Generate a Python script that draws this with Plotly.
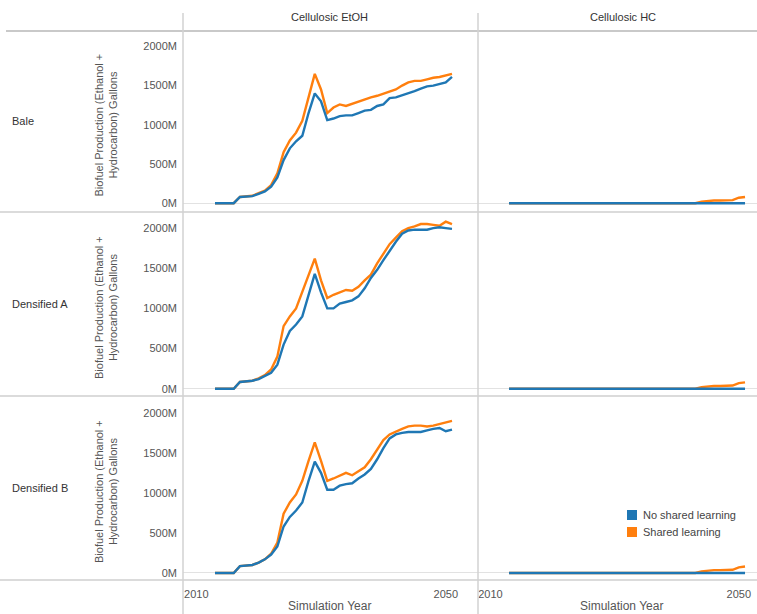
import plotly.graph_objects as go

# Simulation years and biofuel production (million gallons)
years = list(range(2013, 2052))

row_names = ["Bale", "Densified A", "Densified B"]
col_names = ["Cellulosic EtOH", "Cellulosic HC"]
series_names = ["No shared learning", "Shared learning"]

etoh_bale_no = [0, 0, 0, 0, 80, 85, 90, 120, 150, 210, 330, 550, 700, 790, 860, 1150,
                1400, 1300, 1060, 1080, 1110, 1120, 1120, 1150, 1180, 1190, 1240, 1260,
                1340, 1350, 1380, 1400, 1430, 1460, 1490, 1500, 1520, 1540, 1610]
etoh_bale_sh = [0, 0, 0, 0, 80, 90, 95, 130, 160, 230, 380, 650, 800, 900, 1050, 1350,
                1650, 1450, 1150, 1220, 1260, 1240, 1270, 1300, 1330, 1350, 1370, 1400,
                1420, 1450, 1500, 1540, 1560, 1560, 1580, 1600, 1610, 1630, 1650]

etoh_densa_no = [0, 0, 0, 0, 85, 90, 100, 120, 160, 200, 300, 550, 720, 800, 900, 1150,
                 1430, 1200, 1000, 1000, 1060, 1080, 1100, 1150, 1250, 1380, 1480, 1600,
                 1720, 1830, 1930, 1970, 1980, 1980, 1980, 2000, 2010, 2000, 1990]
etoh_densa_sh = [0, 0, 0, 0, 85, 90, 100, 130, 170, 240, 400, 780, 900, 1000, 1200, 1400,
                 1620, 1350, 1130, 1170, 1200, 1230, 1220, 1270, 1350, 1420, 1560, 1680,
                 1800, 1880, 1960, 2000, 2020, 2050, 2050, 2040, 2030, 2080, 2050]

etoh_densb_no = [0, 0, 0, 0, 85, 90, 100, 130, 170, 230, 330, 580, 700, 780, 880, 1150,
                 1390, 1250, 1040, 1040, 1090, 1110, 1120, 1180, 1230, 1300, 1420, 1560,
                 1680, 1730, 1750, 1760, 1760, 1760, 1780, 1800, 1810, 1770, 1790]
etoh_densb_sh = [0, 0, 0, 0, 85, 90, 100, 130, 170, 240, 380, 740, 880, 980, 1150, 1400,
                 1630, 1400, 1150, 1180, 1220, 1250, 1220, 1270, 1320, 1420, 1540, 1660,
                 1730, 1770, 1800, 1830, 1840, 1840, 1830, 1840, 1860, 1880, 1900]

hc_no = [0] * 39
hc_sh = [0] * 31 + [20, 30, 35, 35, 35, 40, 70, 80]

data = {
    ("Bale", "Cellulosic EtOH"): (etoh_bale_no, etoh_bale_sh),
    ("Bale", "Cellulosic HC"): (hc_no, hc_sh),
    ("Densified A", "Cellulosic EtOH"): (etoh_densa_no, etoh_densa_sh),
    ("Densified A", "Cellulosic HC"): (hc_no, hc_sh),
    ("Densified B", "Cellulosic EtOH"): (etoh_densb_no, etoh_densb_sh),
    ("Densified B", "Cellulosic HC"): (hc_no, hc_sh),
}

y_ticks = [0, 500, 1000, 1500, 2000]
y_tick_labels = ["0M", "500M", "1000M", "1500M", "2000M"]
x_ticks = [2010, 2050]
x_tick_labels = ["2010", "2050"]

BLUE = "#1f77b4"
ORANGE = "#ff7f0e"
FONT = "Liberation Sans, Arial, sans-serif"

W, H = 757, 614


def fx(px):
    return px / W


def fy(py):
    return 1 - py / H


col_px = [(183, 478), (478, 757)]
row_px = [(31, 212), (212, 396), (396, 580)]
x_ranges = [[2007.87, 2055.17], [2008.0, 2052.93]]
y_ranges = [[-112, 2196], [-90, 2200], [-88, 2210]]

fig = go.Figure()
layout = dict(
    width=W, height=H,
    margin=dict(l=0, r=0, t=0, b=0),
    paper_bgcolor="white", plot_bgcolor="white",
    showlegend=False,
    font=dict(family=FONT, color="#555555", size=11),
)

shapes = []
annotations = []

for r, rname in enumerate(row_names):
    for c, cname in enumerate(col_names):
        k = r * 2 + c + 1
        xa = "x" if k == 1 else f"x{k}"
        ya = "y" if k == 1 else f"y{k}"
        no_vals, sh_vals = data[(rname, cname)]
        fig.add_trace(go.Scatter(x=years, y=sh_vals, mode="lines",
                                 line=dict(color=ORANGE, width=2.4),
                                 name=series_names[1], xaxis=xa, yaxis=ya))
        fig.add_trace(go.Scatter(x=years, y=no_vals, mode="lines",
                                 line=dict(color=BLUE, width=2.4),
                                 name=series_names[0], xaxis=xa, yaxis=ya))
        bottom = r == len(row_names) - 1
        layout["xaxis" if k == 1 else f"xaxis{k}"] = dict(
            domain=[fx(col_px[c][0]), fx(col_px[c][1])],
            range=x_ranges[c], anchor=ya,
            showgrid=False, zeroline=False, showline=False,
            tickmode="array", tickvals=x_ticks, ticktext=x_tick_labels,
            showticklabels=bottom,
            ticks="", tickfont=dict(size=11, color="#555555"),
            ticklabelstandoff=6,
        )
        layout["yaxis" if k == 1 else f"yaxis{k}"] = dict(
            domain=[fy(row_px[r][1]), fy(row_px[r][0])],
            range=y_ranges[r], anchor=xa,
            showgrid=False, zeroline=True, zerolinecolor="#e2e2e2",
            zerolinewidth=1, showline=False,
            tickmode="array", tickvals=y_ticks, ticktext=y_tick_labels,
            showticklabels=(c == 0),
            ticks="", tickfont=dict(size=11, color="#555555"),
            ticklabelstandoff=5,
        )

# Column headers and x-axis titles
for c, cname in enumerate(col_names):
    cx = (col_px[c][0] + col_px[c][1]) / 2
    annotations.append(dict(text=cname, x=fx(cx - 1 if c == 0 else cx + 5),
                            y=fy(17), xref="paper", yref="paper",
                            xanchor="center", yanchor="middle",
                            showarrow=False, font=dict(size=11, color="#333333")))
    annotations.append(dict(text="Simulation Year",
                            x=fx(cx - 1 if c == 0 else cx + 4),
                            y=fy(606), xref="paper", yref="paper",
                            xanchor="center", yanchor="middle",
                            showarrow=False, font=dict(size=12, color="#555555")))

# Row headers and y-axis titles
for r, rname in enumerate(row_names):
    mid = (row_px[r][0] + row_px[r][1]) / 2
    annotations.append(dict(text=rname, x=fx(10), y=fy(mid), xref="paper", yref="paper",
                            xanchor="left", yanchor="middle", showarrow=False,
                            font=dict(size=11, color="#333333")))
    annotations.append(dict(text="Biofuel Production (Ethanol +<br>Hydrocarbon) Gallons",
                            x=fx(106), y=fy(mid + 4), xref="paper", yref="paper",
                            xanchor="center", yanchor="middle",
                            textangle=-90, showarrow=False,
                            font=dict(size=11, color="#555555")))

# Frame lines between header, rows and columns
shapes.append(dict(type="line", xref="paper", yref="paper", x0=fx(6), x1=1,
                   y0=fy(31), y1=fy(31), line=dict(color="#c9c9c9", width=2)))
for r in range(len(row_names)):
    yb = row_px[r][1]
    shapes.append(dict(type="line", xref="paper", yref="paper", x0=0, x1=1,
                       y0=fy(yb), y1=fy(yb), line=dict(color="#cfcfcf", width=1.5)))
for xv in (183, 478):
    shapes.append(dict(type="line", xref="paper", yref="paper", x0=fx(xv), x1=fx(xv),
                       y0=fy(13), y1=0, line=dict(color="#d2d2d2", width=1.5)))

# Legend drawn in the lower right panel
leg_x, leg_y0, leg_dy = 627, 510, 17
for i, (name, col) in enumerate(zip(series_names, [BLUE, ORANGE])):
    top = leg_y0 + i * leg_dy
    shapes.append(dict(type="rect", xref="paper", yref="paper",
                       x0=fx(leg_x), x1=fx(leg_x + 10), y0=fy(top + 10), y1=fy(top),
                       fillcolor=col, line=dict(width=0)))
    annotations.append(dict(text=name, x=fx(leg_x + 14), y=fy(top + 5),
                            xref="paper", yref="paper", xanchor="left", yanchor="middle",
                            showarrow=False, font=dict(size=11, color="#444444")))

layout["shapes"] = shapes
layout["annotations"] = annotations
fig.update_layout(**layout)
fig.write_html("out.html")
